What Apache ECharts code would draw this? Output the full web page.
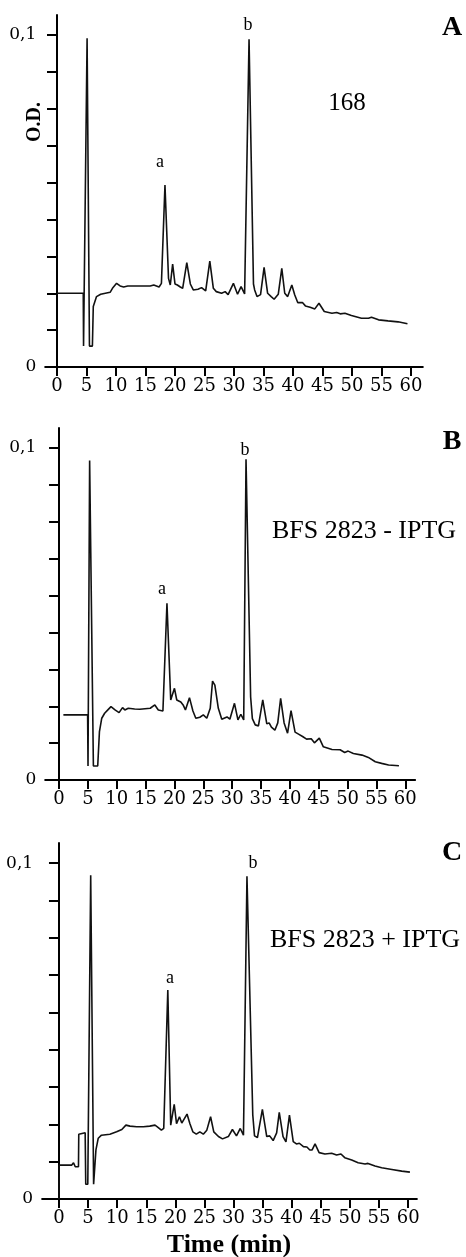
<!DOCTYPE html>
<html>
<head>
<meta charset="utf-8">
<script src="https://cdn.jsdelivr.net/npm/echarts@6/dist/echarts.min.js"></script>
<style>
  html, body { margin: 0; padding: 0; background: #fff; }
  #chart { width: 466px; height: 1257px; }
</style>
</head>
<body>
<div id="chart"></div>
<script>
// tick positions (minutes / O.D.)
const timeTicks = [0, 5, 10, 15, 20, 25, 30, 35, 40, 45, 50, 55, 60];
const odTicks = [0, 0.0111, 0.0222, 0.0333, 0.0444, 0.0556, 0.0667, 0.0778, 0.0889, 0.1];
const odLabels = [0, 0.1];

// chromatogram 168  [time (min), O.D.]
const traceA = [
	[0, 0.0222], [4.45, 0.0222], [4.5, 0.0063], [4.55, 0.0063], [5.1, 0.099], [5.25, 0.099],
	[5.5, 0.0063], [6.0, 0.0063], [6.15, 0.0182], [6.7, 0.0212], [7.4, 0.0219], [8.2, 0.0222],
	[9.0, 0.0225], [9.4, 0.0237], [10.1, 0.0252], [10.7, 0.0244], [11.3, 0.0241], [12, 0.0244],
	[15.8, 0.0244], [16.4, 0.0247], [16.7, 0.025], [17.3, 0.0241], [17.7, 0.0252], [18.3, 0.0548],
	[18.9, 0.0267], [19.2, 0.0247], [19.6, 0.031], [20.0, 0.025], [20.4, 0.0247], [20.9, 0.0241],
	[21.3, 0.0237], [22.0, 0.0314], [22.6, 0.025], [23.1, 0.0232], [23.9, 0.0234], [24.5, 0.0239],
	[25.2, 0.0229], [25.9, 0.0319], [26.5, 0.0237], [27.0, 0.0227], [27.9, 0.0222], [28.5, 0.0227],
	[29.0, 0.0218], [29.9, 0.0252], [30.6, 0.0219], [31.2, 0.0242], [31.8, 0.022], [32.55, 0.0987],
	[32.85, 0.0987], [33.3, 0.025], [33.5, 0.0232], [33.9, 0.0212], [34.5, 0.0218], [35.1, 0.03],
	[35.7, 0.0222], [36.3, 0.0212], [36.8, 0.0204], [37.5, 0.0219], [38.1, 0.0297], [38.6, 0.0222],
	[39.1, 0.0212], [39.8, 0.0247], [40.3, 0.0217], [40.8, 0.0194], [41.6, 0.0194], [42.1, 0.0184],
	[42.9, 0.018], [43.7, 0.0175], [44.4, 0.0192], [45.3, 0.0167], [46.6, 0.0162], [47.4, 0.0164],
	[48.0, 0.016], [48.8, 0.0162], [49.9, 0.0155], [51.6, 0.0147], [52.8, 0.0147], [53.3, 0.015],
	[54.5, 0.0142], [56.1, 0.0139], [57.8, 0.0136], [59.4, 0.013]
];

// BFS 2823 - IPTG
const traceB = [
	[0.75, 0.0196], [4.95, 0.0196], [5.02, 0.0042], [5.12, 0.0042], [5.3, 0.0962], [5.45, 0.0962],
	[5.95, 0.0042], [6.7, 0.0042], [7.0, 0.0146], [7.4, 0.0186], [7.9, 0.0201], [8.5, 0.0212],
	[9.0, 0.0221], [9.7, 0.0211], [10.4, 0.0203], [11.0, 0.0218], [11.4, 0.0211], [12.0, 0.0216],
	[13.1, 0.0214], [14.0, 0.0213], [15.8, 0.0216], [16.6, 0.0226], [17.2, 0.0211], [18.0, 0.0208],
	[18.7, 0.0532], [19.35, 0.0241], [20.0, 0.0276], [20.4, 0.0241], [21.1, 0.0235], [21.5, 0.0226],
	[21.9, 0.0211], [22.6, 0.0248], [23.2, 0.0208], [23.7, 0.0186], [24.4, 0.0189], [25.0, 0.0196],
	[25.6, 0.0186], [26.2, 0.0216], [26.6, 0.0298], [27.0, 0.0286], [27.6, 0.0216], [28.2, 0.0183],
	[29.1, 0.019], [29.6, 0.0183], [30.4, 0.0231], [31.0, 0.0181], [31.5, 0.0198], [32.0, 0.0181],
	[32.4, 0.0966], [32.65, 0.0966], [33.2, 0.025], [33.5, 0.0185], [34.0, 0.0166], [34.55, 0.0163],
	[35.3, 0.0241], [36.0, 0.0169], [36.4, 0.0172], [36.8, 0.0159], [37.4, 0.015], [37.9, 0.0172],
	[38.4, 0.0246], [39.0, 0.0172], [39.6, 0.0141], [40.2, 0.0209], [40.9, 0.0144], [41.5, 0.0138],
	[42.2, 0.0131], [42.9, 0.0123], [43.7, 0.0124], [44.25, 0.0112], [45.1, 0.0126], [45.8, 0.01],
	[47.3, 0.0092], [48.7, 0.0091], [49.5, 0.0083], [50.1, 0.0087], [51.0, 0.008], [52.5, 0.0075],
	[53.6, 0.0068], [54.8, 0.0055], [55.9, 0.005], [57.1, 0.0045], [58.9, 0.0043]
];

// BFS 2823 + IPTG
const traceC = [
	[0, 0], [0.02, 0.0101], [2.2, 0.0101], [2.5, 0.0108], [2.8, 0.0096], [3.35, 0.0096],
	[3.4, 0.0193], [4.5, 0.0197], [4.6, 0.0044], [4.95, 0.0044], [5.45, 0.0964], [5.65, 0.0964],
	[5.95, 0.0044], [6.25, 0.0044], [6.35, 0.0146], [6.75, 0.0181], [7.3, 0.019], [8.75, 0.0193],
	[9.9, 0.02], [10.8, 0.0207], [11.5, 0.022], [12.2, 0.0217], [13.35, 0.0215], [14.5, 0.0215],
	[15.6, 0.0217], [16.5, 0.022], [16.9, 0.0215], [17.6, 0.0205], [18.0, 0.021], [18.7, 0.0622],
	[19.2, 0.022], [19.8, 0.0282], [20.2, 0.0224], [20.7, 0.0245], [21.1, 0.0226], [22.0, 0.0253],
	[22.5, 0.0224], [23.0, 0.02], [23.6, 0.0193], [24.2, 0.02], [24.8, 0.0193], [25.4, 0.0205],
	[26.05, 0.0245], [26.6, 0.02], [27.4, 0.0186], [28.1, 0.0179], [29.1, 0.0186], [29.8, 0.0207],
	[30.5, 0.0188], [31.15, 0.021], [31.7, 0.019], [32.3, 0.0961], [32.6, 0.0961], [33.3, 0.025],
	[33.6, 0.0188], [34.1, 0.0183], [34.95, 0.0267], [35.7, 0.0186], [36.2, 0.0188], [36.8, 0.0174],
	[37.4, 0.0197], [37.85, 0.0258], [38.5, 0.0186], [39.0, 0.017], [39.6, 0.025], [40.25, 0.0171],
	[40.8, 0.0164], [41.3, 0.0166], [42.0, 0.0156], [42.6, 0.0155], [43.1, 0.0146], [43.5, 0.0146],
	[44.0, 0.0164], [44.7, 0.0138], [45.7, 0.0134], [46.85, 0.0136], [47.7, 0.0131], [48.45, 0.0134],
	[49.1, 0.0123], [50.3, 0.0116], [51.4, 0.0108], [52.6, 0.0104], [53.1, 0.0106], [54.3, 0.0098],
	[55.45, 0.0093], [57.2, 0.0088], [58.9, 0.0083], [60.3, 0.008]
];

const SERIF = '"Liberation Serif", "DejaVu Serif", serif';
const TICK_FONT = '"DejaVu Serif", serif';

const chart = echarts.init(document.getElementById('chart'), null, {renderer: 'canvas'});

// panel geometry in pixels
const panels = [
	{left: 45.2, top: 15, width: 377.6, height: 352, xmin: -2, xmax: 62, data: traceA},
	{left: 45.2, top: 428, width: 369.9, height: 352, xmin: -2.4, xmax: 61.7, data: traceB},
	{left: 42.1, top: 843, width: 374.8, height: 356, xmin: -2.9, xmax: 61.5, data: traceC}
];

const axisLine = {show: true, onZero: true, lineStyle: {color: '#000', width: 2}};

const option = {
	animation: false,
	backgroundColor: '#fff',
	grid: panels.map(p => ({left: p.left, top: p.top, width: p.width, height: p.height, containLabel: false})),
	xAxis: panels.map((p, i) => ({
		type: 'value',
		gridIndex: i,
		min: p.xmin,
		max: p.xmax,
		axisLine: axisLine,
		axisTick: {show: true, customValues: timeTicks, length: 9, lineStyle: {color: '#000', width: 2}},
		axisLabel: {
			show: true,
			customValues: timeTicks,
			margin: 10,
			color: '#000',
			fontFamily: TICK_FONT,
			fontSize: 18
		},
		splitLine: {show: false}
	})),
	yAxis: panels.map((p, i) => ({
		type: 'value',
		gridIndex: i,
		min: 0,
		max: 0.106,
		axisLine: axisLine,
		axisTick: {show: true, customValues: odTicks, length: 10, lineStyle: {color: '#000', width: 2}},
		axisLabel: {
			show: true,
			customValues: odLabels,
			margin: 9,
			color: '#000',
			fontFamily: TICK_FONT,
			fontSize: 17,
			formatter: v => (v === 0 ? '0' : '0,1')
		},
		splitLine: {show: false}
	})),
	series: panels.map((p, i) => ({
		type: 'line',
		xAxisIndex: i,
		yAxisIndex: i,
		data: p.data,
		showSymbol: false,
		symbol: 'none',
		lineStyle: {color: '#111', width: 1.6},
		clip: false
	})),
	graphic: [
		{type: 'text', x: 35, y: 122, rotation: Math.PI / 2,
			style: {text: 'O.D.', font: 'bold 20px ' + SERIF, fill: '#000', textAlign: 'center', textVerticalAlign: 'middle'}},
		// panel A
		{type: 'text', style: {x: 452, y: 28, text: 'A', font: 'bold 28px ' + SERIF, fill: '#000', textAlign: 'center', textVerticalAlign: 'middle'}},
		{type: 'text', style: {x: 248, y: 25, text: 'b', font: '18px ' + SERIF, fill: '#000', textAlign: 'center', textVerticalAlign: 'middle'}},
		{type: 'text', style: {x: 160, y: 162, text: 'a', font: '18px ' + SERIF, fill: '#000', textAlign: 'center', textVerticalAlign: 'middle'}},
		{type: 'text', style: {x: 347, y: 103, text: '168', font: '25px ' + SERIF, fill: '#000', textAlign: 'center', textVerticalAlign: 'middle'}},
		// panel B
		{type: 'text', style: {x: 452, y: 442, text: 'B', font: 'bold 28px ' + SERIF, fill: '#000', textAlign: 'center', textVerticalAlign: 'middle'}},
		{type: 'text', style: {x: 245, y: 450, text: 'b', font: '18px ' + SERIF, fill: '#000', textAlign: 'center', textVerticalAlign: 'middle'}},
		{type: 'text', style: {x: 162, y: 589, text: 'a', font: '18px ' + SERIF, fill: '#000', textAlign: 'center', textVerticalAlign: 'middle'}},
		{type: 'text', style: {x: 364, y: 531, text: 'BFS 2823 - IPTG', font: '26px ' + SERIF, fill: '#000', textAlign: 'center', textVerticalAlign: 'middle'}},
		// panel C
		{type: 'text', style: {x: 452, y: 853, text: 'C', font: 'bold 28px ' + SERIF, fill: '#000', textAlign: 'center', textVerticalAlign: 'middle'}},
		{type: 'text', style: {x: 253, y: 863, text: 'b', font: '18px ' + SERIF, fill: '#000', textAlign: 'center', textVerticalAlign: 'middle'}},
		{type: 'text', style: {x: 170, y: 978, text: 'a', font: '18px ' + SERIF, fill: '#000', textAlign: 'center', textVerticalAlign: 'middle'}},
		{type: 'text', style: {x: 365, y: 940, text: 'BFS 2823 + IPTG', font: '26px ' + SERIF, fill: '#000', textAlign: 'center', textVerticalAlign: 'middle'}},
		{type: 'text', style: {x: 229, y: 1245, text: 'Time (min)', font: 'bold 26px ' + SERIF, fill: '#000', textAlign: 'center', textVerticalAlign: 'middle'}}
	]
};

chart.setOption(option);
</script>
</body>
</html>
